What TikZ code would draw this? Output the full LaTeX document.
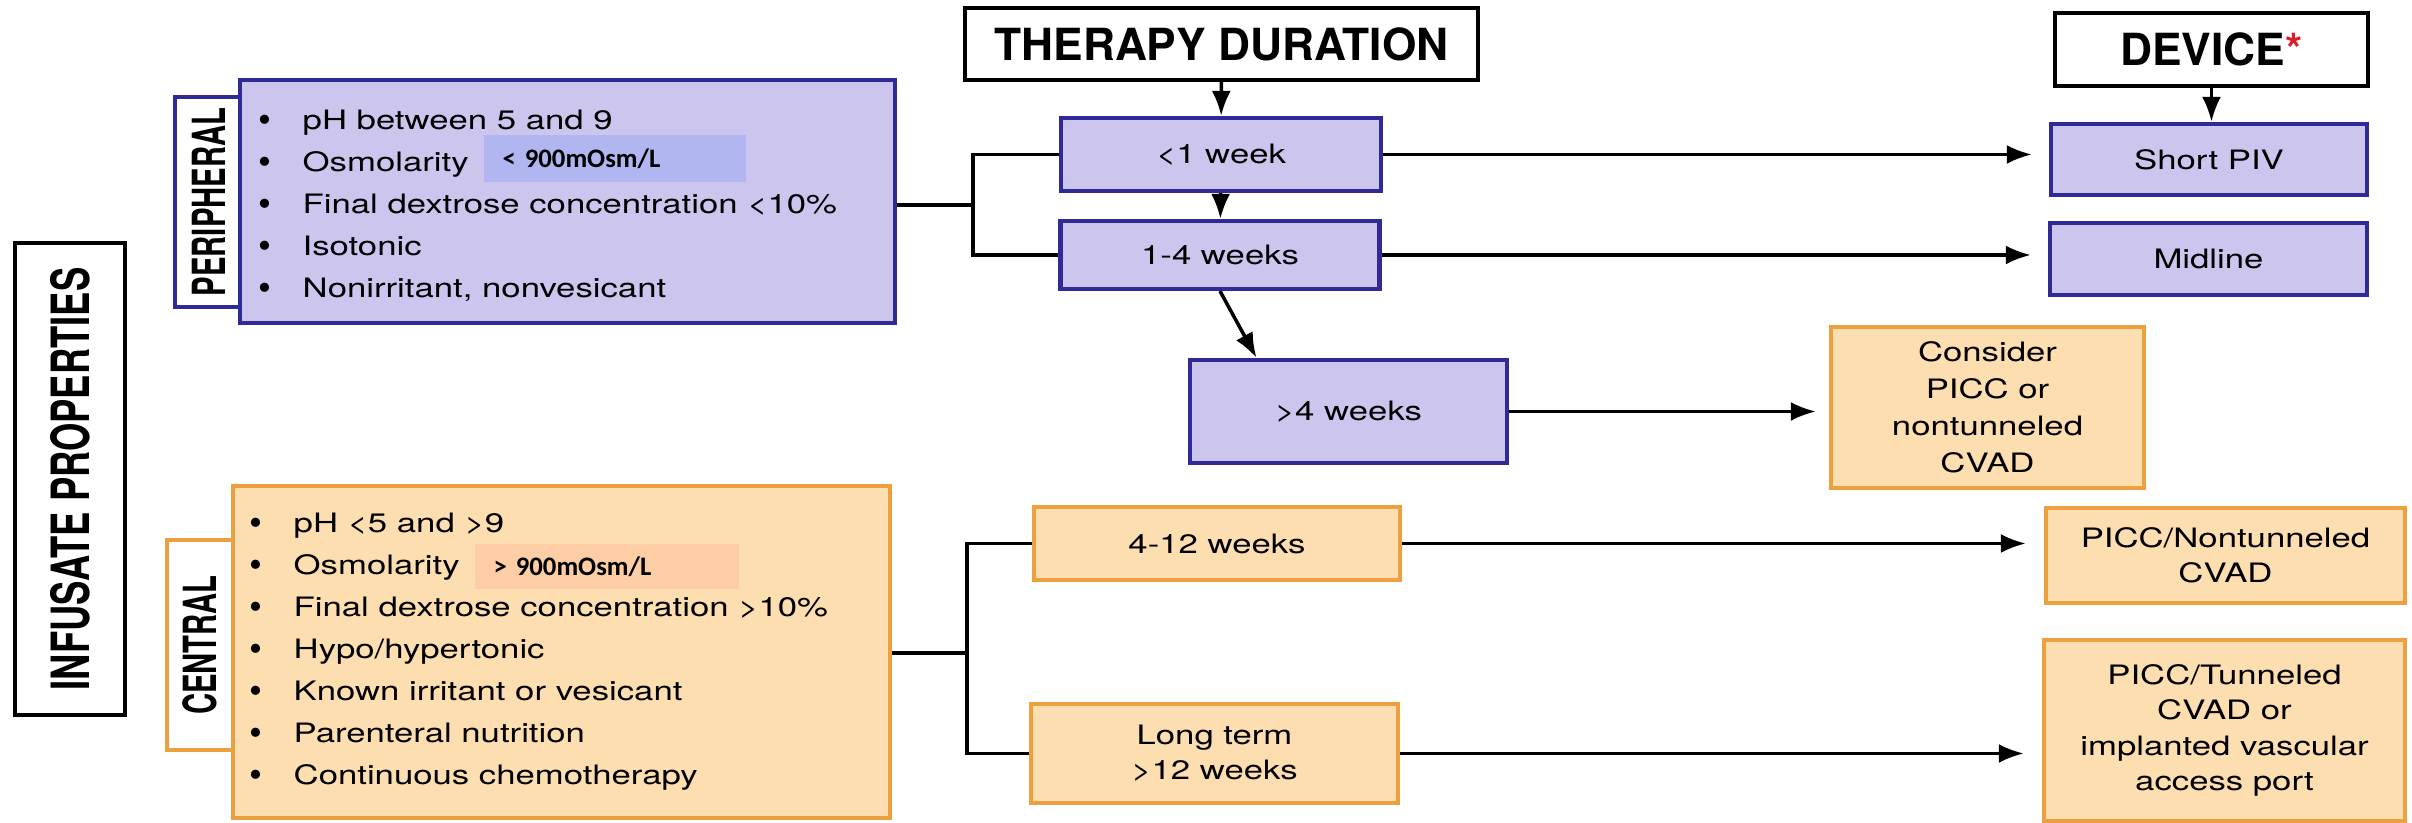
\documentclass[tikz,border=0pt]{standalone}
\usepackage{fontspec}
\setmainfont{TeX Gyre Heros}[FakeStretch=1.3]
\newfontfamily\headfont{TeX Gyre Heros}
\newfontfamily\sidefont{TeX Gyre Heros}[FakeStretch=0.64]
\newfontfamily\longsidefont{TeX Gyre Heros}[FakeStretch=0.69]
\newfontfamily\patchfont{Carlito}
\usetikzlibrary{arrows.meta,positioning}
\definecolor{perifill}{RGB}{204,197,238}
\definecolor{periline}{RGB}{48,42,150}
\definecolor{centfill}{RGB}{252,222,176}
\definecolor{centline}{RGB}{236,160,64}
\definecolor{periover}{RGB}{178,182,240}
\definecolor{centover}{RGB}{253,205,166}
\definecolor{asterred}{RGB}{220,30,40}

\newcommand{\bul}{\makebox[0.44cm][l]{\raisebox{-0.7pt}{\headfont\fontsize{10.5}{10}\selectfont\textbullet}}}

\tikzset{
  purplebox/.style={draw=periline, fill=perifill, line width=1.2pt, inner sep=0pt, align=center, font=\fontsize{7.6}{10}\selectfont},
  orangebox/.style={draw=centline, fill=centfill, line width=1.2pt, inner sep=0pt, align=center, font=\fontsize{7.6}{10}\selectfont},
  headbox/.style={draw=black, fill=white, line width=1.1pt, inner sep=0pt, font=\headfont\bfseries\fontsize{12.6}{14}\selectfont},
  sidebox/.style={draw, fill=white, rotate=90, line width=1.1pt, inner sep=0pt, font=\sidefont\bfseries\fontsize{13}{14}\selectfont},
  bullettext/.style={anchor=base west, inner sep=0pt, font=\fontsize{7.6}{10}\selectfont},
  patch/.style={anchor=west, inner xsep=0.19cm, inner ysep=0pt, align=left, font=\patchfont\bfseries\fontsize{7.6}{9}\selectfont},
  flow/.style={-{Latex[length=0.25cm,width=0.19cm]}, line width=1pt},
  link/.style={line width=1pt},
}

\begin{document}
\begin{tikzpicture}
  \useasboundingbox (0,0) rectangle (24.12,8.23);

  % Infusate properties
  \node[sidebox, minimum width=4.72cm, minimum height=1.10cm, font=\longsidefont\bfseries\fontsize{15}{16}\selectfont] (infusate) at (0.70,3.44) {INFUSATE PROPERTIES};
  \node[sidebox, draw=periline, minimum width=2.10cm, minimum height=0.68cm] (perilabel) at (2.09,6.21) {PERIPHERAL};
  \node[sidebox, draw=centline, minimum width=2.10cm, minimum height=0.66cm] (centlabel) at (2.00,1.78) {CENTRAL};
  \node[purplebox, minimum width=6.55cm, minimum height=2.43cm] (peribox) at (5.675,6.215) {};
  \node[orangebox, minimum width=6.57cm, minimum height=3.32cm] (centbox) at (5.615,1.71) {};

  \foreach \txt [count=\i] in {pH between 5 and 9, Osmolarity, Final dextrose concentration <10\%, Isotonic, {Nonirritant, nonvesicant}}
    \node[bullettext] (peri\i) at (2.58,7.35-0.42*\i) {\bul\txt};
  \foreach \txt [count=\i] in {pH <5 and >9, Osmolarity, Final dextrose concentration >10\%, Hypo/hypertonic, Known irritant or vesicant, Parenteral nutrition, Continuous chemotherapy}
    \node[bullettext] (cent\i) at (2.49,3.32-0.42*\i) {\bul\txt};

  % Osmolarity patches
  \node[patch, fill=periover, minimum height=0.47cm, text width=2.24cm] (periosm) at (4.83,6.645) {< 900mOsm/L};
  \node[patch, fill=centover, minimum height=0.45cm, text width=2.26cm] (centosm) at (4.74,2.565) {> 900mOsm/L};

  % Headers
  \node[headbox, minimum width=5.13cm, minimum height=0.72cm] (therapy) at (12.215,7.79) {THERAPY DURATION};
  \node[headbox, minimum width=3.13cm, minimum height=0.73cm] (device) at (22.115,7.735) {DEVICE\textcolor{asterred}{*}};

  % Therapy duration
  \node[purplebox, minimum width=3.20cm, minimum height=0.73cm] (wk1) at (12.21,6.685) {<1 week};
  \node[purplebox, minimum width=3.19cm, minimum height=0.68cm] (wk14) at (12.20,5.68) {1-4 weeks};
  \node[purplebox, minimum width=3.17cm, minimum height=1.03cm] (wk4) at (13.485,4.115) {>4 weeks};
  \node[orangebox, minimum width=3.66cm, minimum height=0.73cm] (wk412) at (12.17,2.795) {4-12 weeks};
  \node[orangebox, minimum width=3.67cm, minimum height=0.99cm] (longterm) at (12.145,0.695) {Long term\\>12 weeks};

  % Devices
  \node[purplebox, minimum width=3.16cm, minimum height=0.71cm] (shortpiv) at (22.09,6.635) {Short PIV};
  \node[purplebox, minimum width=3.17cm, minimum height=0.72cm] (midline) at (22.085,5.64) {Midline};
  \node[orangebox, minimum width=3.13cm, minimum height=1.61cm, font=\fontsize{7.6}{10.5}\selectfont] (consider) at (19.875,4.155) {Consider\\PICC or\\nontunneled\\CVAD};
  \node[orangebox, minimum width=3.59cm, minimum height=0.95cm] (piccnon) at (22.255,2.675) {PICC/Nontunneled\\CVAD};
  \node[orangebox, minimum width=3.61cm, minimum height=1.81cm] (picctun) at (22.245,0.925) {PICC/Tunneled\\CVAD or\\implanted vascular\\access port};

  % Arrows
  \draw[flow] (therapy) -- (wk1);
  \draw[flow] (wk1) -- (wk14);
  \draw[flow] (wk14.south) -- ([xshift=-0.92cm]wk4.north);
  \draw[flow] (device.south) -- (device.south |- shortpiv.north);
  \draw[flow, shorten >=0.17cm] (wk1.east) -- (wk1.east -| shortpiv.west);
  \draw[flow, shorten >=0.17cm] (wk14.east) -- (wk14.east -| midline.west);
  \draw[flow, shorten >=0.13cm] (wk4.east) -- (wk4.east -| consider.west);
  \draw[flow, shorten >=0.18cm] (wk412.east) -- (wk412.east -| piccnon.west);
  \draw[flow, shorten >=0.18cm] (longterm.east) -- (longterm.east -| picctun.west);

  % Brackets
  \coordinate (perijoin) at (9.73,6.18);
  \coordinate (centjoin) at (9.67,1.70);
  \draw[link] (peribox.east |- perijoin) -- (perijoin);
  \draw[link] (wk1.west) -| (perijoin) |- (wk14.west);
  \draw[link] (centbox.east |- centjoin) -- (centjoin);
  \draw[link] (wk412.west) -| (centjoin) |- (longterm.west);
\end{tikzpicture}
\end{document}
